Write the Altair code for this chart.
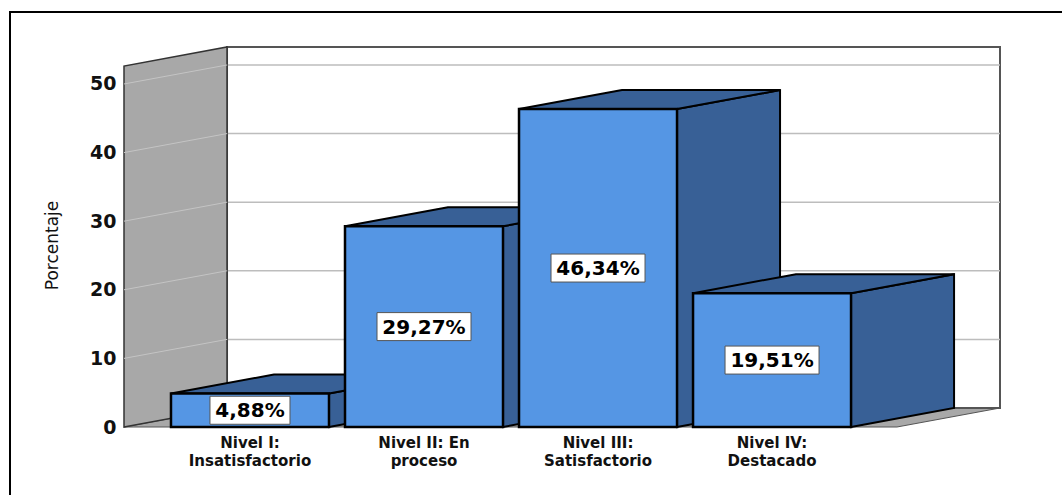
import altair as alt
import pandas as pd

# ---- data ----
categories = ["Nivel I:\nInsatisfactorio", "Nivel II: En\nproceso",
              "Nivel III:\nSatisfactorio", "Nivel IV:\nDestacado"]
values = [4.88, 29.27, 46.34, 19.51]
labels = ["4,88%", "29,27%", "46,34%", "19,51%"]
y_ticks = [0, 10, 20, 30, 40, 50]

# ---- layout constants (slot units on x, value units on y) ----
PX_PER_SLOT = 174.0
PX_PER_UNIT = 6.86
BAR_HALF = 0.454
DX = 0.592          # depth offset on x
DY = 2.77           # depth offset on y
X_MIN = -0.724
X_MAX = 4.310
Y_MAX = 55.39
FLOOR_FRONT_RIGHT = 3.718
W, H = 876, 380

FRONT = "#5596E4"
DARK = "#386096"
GRAY = "#A8A8A8"

xs = alt.Scale(domain=[X_MIN, X_MAX], nice=False, zero=False)
ys = alt.Scale(domain=[0, Y_MAX], nice=False, zero=False)

idx = list(range(len(values)))

front_df = pd.DataFrame({
    "bar": idx,
    "x": [i - BAR_HALF for i in idx],
    "x2": [i + BAR_HALF for i in idx],
    "y": [0.0] * len(idx),
    "y2": values,
})

wall_df = pd.DataFrame({"x": [X_MIN, X_MIN + DX], "y": [0.0, DY],
                        "y2": [Y_MAX - DY, Y_MAX]})
floor_df = pd.DataFrame({"y": [0.0, DY], "x": [X_MIN, X_MIN + DX],
                         "x2": [FLOOR_FRONT_RIGHT, X_MAX]})

grid_back = pd.DataFrame({"y": [t + DY for t in y_ticks if t > 0],
                          "x": [X_MIN + DX] * (len(y_ticks) - 1),
                          "x2": [X_MAX] * (len(y_ticks) - 1)})
grid_wall = pd.DataFrame({"x": [X_MIN] * (len(y_ticks) - 1),
                          "x2": [X_MIN + DX] * (len(y_ticks) - 1),
                          "y": [t for t in y_ticks if t > 0],
                          "y2": [t + DY for t in y_ticks if t > 0]})

lab_df = pd.DataFrame({
    "xc": idx,
    "yc": [v / 2 for v in values],
    "lab": labels,
    "bx": [i - (14 * len(l) + 10) / 2 / PX_PER_SLOT for i, l in zip(idx, labels)],
    "bx2": [i + (14 * len(l) + 10) / 2 / PX_PER_SLOT for i, l in zip(idx, labels)],
    "by": [v / 2 - 14 / PX_PER_UNIT for v in values],
    "by2": [v / 2 + 14 / PX_PER_UNIT for v in values],
})
cat_df = pd.DataFrame({"xc": idx, "cat": categories, "y0": [0.0] * len(idx)})

# ---- layers ----
floor = alt.Chart(floor_df).mark_area(orient="horizontal", color=GRAY, stroke="#555555",
                                      strokeWidth=1).encode(
    y=alt.Y("y:Q", scale=ys, stack=None,
            axis=alt.Axis(values=y_ticks, grid=False, ticks=False,
                          domain=False, labelFont="DejaVu Sans",
                          labelFontWeight="bold", labelFontSize=19,
                          labelColor="#111111", labelPadding=8,
                          title="Porcentaje", titleFont="DejaVu Sans",
                          titleFontWeight="normal", titleFontSize=17,
                          titleColor="#111111", titleX=-72, titleY=198,
                          titleAngle=-90, titleBaseline="middle",
                          titleAlign="center")),
    x=alt.X("x:Q", scale=xs, axis=None, stack=None),
    x2="x2:Q",
)

backwall = alt.Chart(pd.DataFrame({"x": [X_MIN + DX], "x2": [X_MAX], "y": [DY], "y2": [Y_MAX]})
                     ).mark_rect(fill="white", stroke="#555555", strokeWidth=2).encode(
    x=alt.X("x:Q", scale=xs, axis=None), x2="x2:Q",
    y=alt.Y("y:Q", scale=ys), y2="y2:Q")

gback = alt.Chart(grid_back).mark_rule(color="#BDBDBD", strokeWidth=1.5).encode(
    x=alt.X("x:Q", scale=xs, axis=None), x2="x2:Q", y=alt.Y("y:Q", scale=ys))

wall = alt.Chart(wall_df).mark_area(color=GRAY, stroke="#333333", strokeWidth=1.5).encode(
    x=alt.X("x:Q", scale=xs, axis=None),
    y=alt.Y("y:Q", scale=ys, stack=None), y2="y2:Q")

gwall = alt.Chart(grid_wall).mark_rule(color="#C4C4C4", strokeWidth=1).encode(
    x=alt.X("x:Q", scale=xs, axis=None), x2="x2:Q",
    y=alt.Y("y:Q", scale=ys), y2="y2:Q")

side_layers, top_layers = [], []
for i, v in zip(idx, values):
    sdf = pd.DataFrame({"x": [i + BAR_HALF, i + BAR_HALF + DX],
                        "y": [0.0, DY], "y2": [v, v + DY]})
    tdf = pd.DataFrame({"y": [v, v + DY],
                        "x": [i - BAR_HALF, i - BAR_HALF + DX],
                        "x2": [i + BAR_HALF, i + BAR_HALF + DX]})
    side_layers.append(alt.Chart(sdf).mark_area(color=DARK, stroke="black",
                                                strokeWidth=2).encode(
        x=alt.X("x:Q", scale=xs, axis=None),
        y=alt.Y("y:Q", scale=ys, stack=None), y2="y2:Q"))
    top_layers.append(alt.Chart(tdf).mark_area(orient="horizontal", color=DARK,
                                               stroke="black", strokeWidth=2).encode(
        y=alt.Y("y:Q", scale=ys),
        x=alt.X("x:Q", scale=xs, axis=None, stack=None), x2="x2:Q"))

fronts = alt.Chart(front_df).mark_rect(color=FRONT, stroke="black", strokeWidth=2.5).encode(
    x=alt.X("x:Q", scale=xs, axis=None), x2="x2:Q",
    y=alt.Y("y:Q", scale=ys), y2="y2:Q")

boxes = alt.Chart(lab_df).mark_rect(fill="white", stroke="#555555", strokeWidth=1).encode(
    x=alt.X("bx:Q", scale=xs, axis=None), x2="bx2:Q",
    y=alt.Y("by:Q", scale=ys), y2="by2:Q")

texts = alt.Chart(lab_df).mark_text(font="DejaVu Sans", fontWeight="bold", fontSize=20,
                                    color="black", baseline="middle", dy=1).encode(
    x=alt.X("xc:Q", scale=xs, axis=None), y=alt.Y("yc:Q", scale=ys), text="lab:N")

cats = alt.Chart(cat_df).mark_text(font="DejaVu Sans", fontWeight="bold", fontSize=15,
                                   color="#111111", baseline="top", dy=9, lineBreak="\n",
                                   lineHeight=17.5).encode(
    x=alt.X("xc:Q", scale=xs, axis=None), y=alt.Y("y0:Q", scale=ys), text="cat:N")

frame = alt.Chart(pd.DataFrame({"k": [0]})).mark_rect(fill=None, stroke="black",
                                                      strokeWidth=2).encode(
    x=alt.value(10 - 124), x2=alt.value(1062 - 124 + 20),
    y=alt.value(12 - 47), y2=alt.value(495 - 47 + 20))

chart = alt.layer(frame, floor, backwall, gback, wall, gwall, *side_layers, *top_layers,
                  fronts, boxes, texts, cats).properties(
    width=W, height=H,
    padding={"left": 124, "top": 47, "right": 62, "bottom": 68},
    autosize=alt.AutoSizeParams(type="none"),
    background="white",
).configure_view(stroke=None)

chart.save("out.html", embed_options={"renderer": "svg", "actions": False})
